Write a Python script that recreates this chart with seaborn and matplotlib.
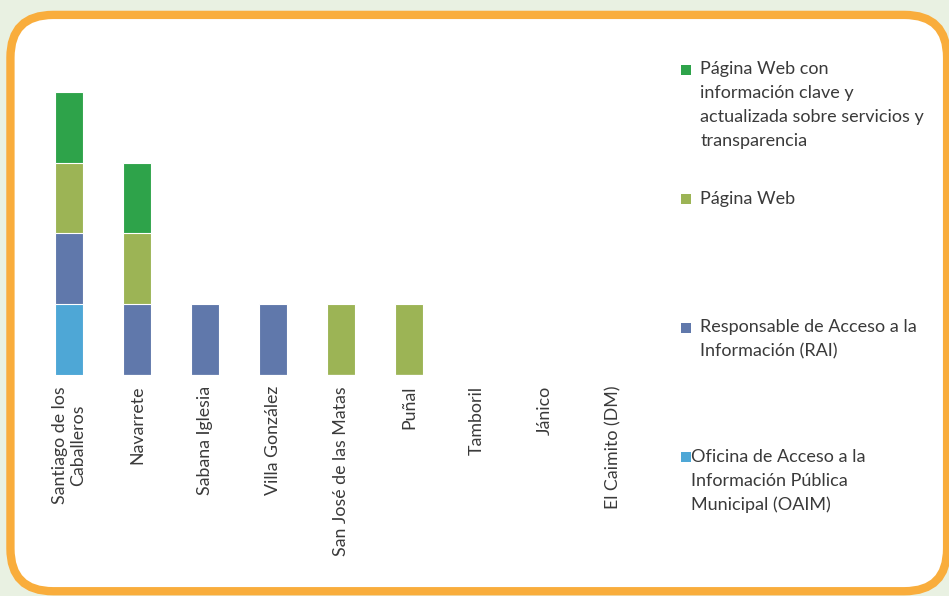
import numpy as np
import pandas as pd
import matplotlib.pyplot as plt
import seaborn as sns
from matplotlib.patches import FancyBboxPatch, Rectangle

municipios = ["Santiago de los\nCaballeros", "Navarrete", "Sabana Iglesia", "Villa González",
              "San José de las Matas", "Puñal", "Tamboril", "Jánico", "El Caimito (DM)"]

# series, bottom to top of the stack
oaim = [1, 0, 0, 0, 0, 0, 0, 0, 0]
rai = [1, 1, 1, 1, 0, 0, 0, 0, 0]
web = [1, 1, 0, 0, 1, 1, 0, 0, 0]
web_info = [1, 1, 0, 0, 0, 0, 0, 0, 0]

series_names = ["Oficina de Acceso a la\nInformación Pública\nMunicipal (OAIM)",
                "Responsable de Acceso a la\nInformación (RAI)",
                "Página Web",
                "Página Web con\ninformación clave y\nactualizada sobre servicios y\ntransparencia"]
colors = ["#4ea7d6", "#6078ab", "#9cb455", "#2ea34a"]

df = pd.DataFrame({"municipio": municipios, "oaim": oaim, "rai": rai,
                   "web": web, "web_info": web_info})
cols = ["oaim", "rai", "web", "web_info"]
cum = df[cols].cumsum(axis=1)

sns.set_style("white")
plt.rcParams["font.family"] = ["Lato", "DejaVu Sans"]

fig = plt.figure(figsize=(9.49, 5.96), dpi=100)
fig.patch.set_facecolor("#e9f1e2")

# orange rounded frame
frame = FancyBboxPatch((0.011, 0.008), 0.987, 0.967, boxstyle="round,pad=0,rounding_size=0.045",
                       transform=fig.transFigure, facecolor="white", edgecolor="#f9ad3c",
                       linewidth=6, mutation_aspect=949 / 596, zorder=-5)
fig.patches.append(frame)

ax = fig.add_axes([0.037, 0.371, 0.645, 0.52])
ax.set_facecolor("none")
ax.set_zorder(2)

# draw cumulative totals from top layer down so segments stack
for i in range(len(cols) - 1, -1, -1):
    sns.barplot(x=df["municipio"], y=cum[cols[i]], color=colors[i], width=0.41,
                edgecolor="white", linewidth=0.8, saturation=1, ax=ax)

ax.set_ylim(0, 4.38)
ax.set_yticks([])
ax.set_xlabel("")
ax.set_ylabel("")
ax.tick_params(axis="x", length=0, pad=8)
plt.setp(ax.get_xticklabels(), rotation=90, fontsize=12.8, color="#3a3a3a", va="top", ha="center")
for s in ax.spines.values():
    s.set_visible(False)

# legend, evenly spaced entries on the right
top_y = [0.897, 0.680, 0.464, 0.247]
for k, idx in enumerate([3, 2, 1, 0]):
    y = top_y[k]
    fig.patches.append(Rectangle((0.718, y - 0.022), 0.0105, 0.0167, transform=fig.transFigure,
                                 facecolor=colors[idx], edgecolor="none"))
    fig.text(0.738 if idx != 0 else 0.728, y, series_names[idx], fontsize=13, color="#3a3a3a",
             va="top", ha="left", linespacing=1.6)

fig.savefig("out.png", dpi=100, facecolor=fig.get_facecolor())
